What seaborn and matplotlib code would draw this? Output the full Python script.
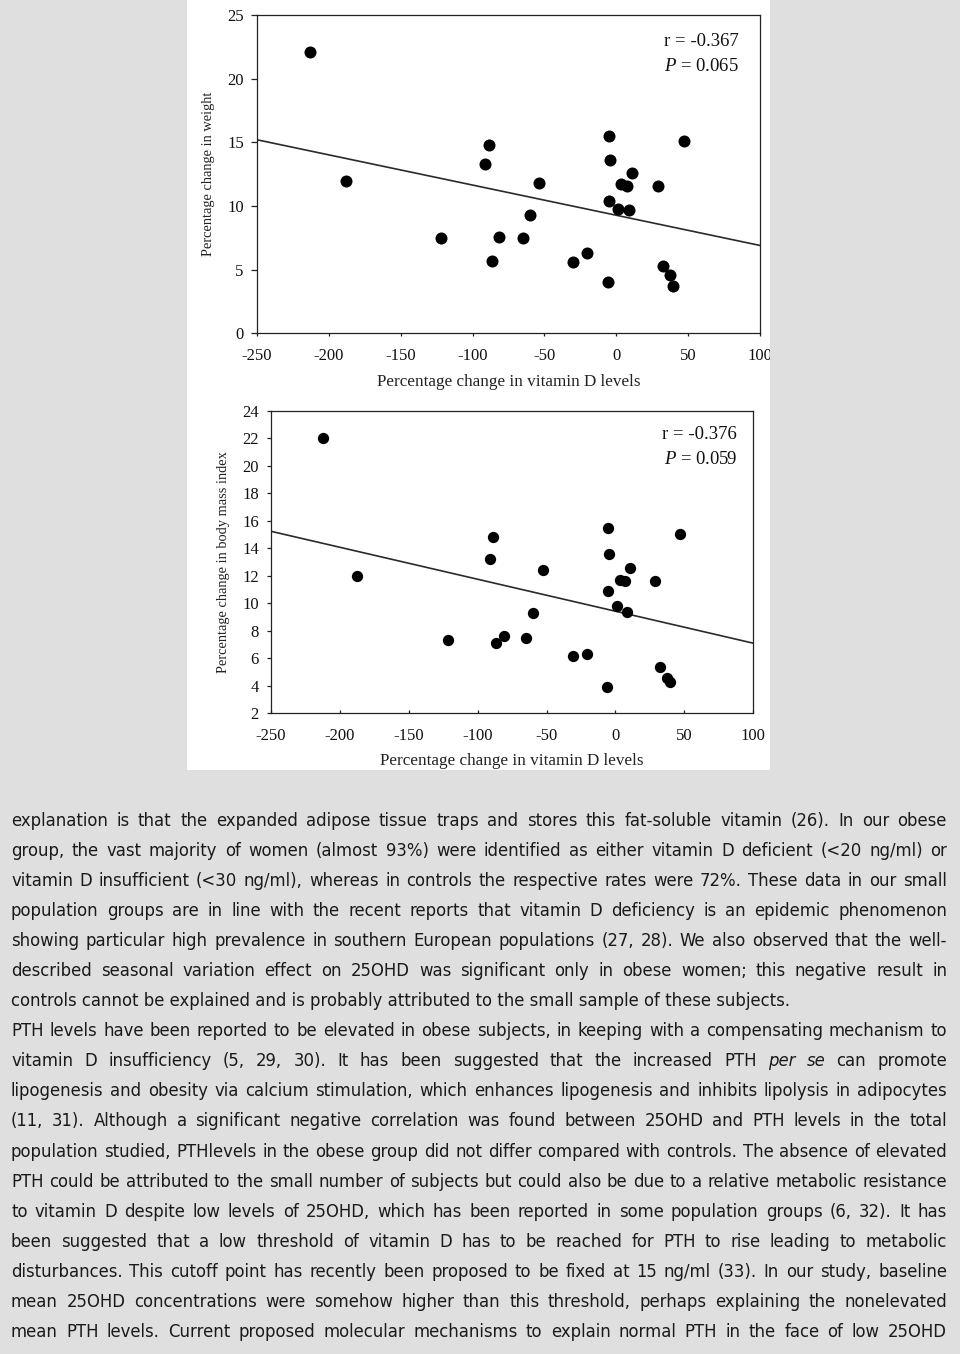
"""
plot.py
=======
Two scatter panels (weight / BMI change vs vitamin D change) with their
fitted trend lines, followed by the page text that sits under the figure.

Output: out.png (960 x 1354 px)
"""

import matplotlib
matplotlib.use("Agg")          # no display in the sandbox
import matplotlib.pyplot as plt
from matplotlib.patches import Rectangle
from matplotlib.transforms import Bbox, TransformedBbox
import seaborn as sns

# ══════════════════════════════════════════════════════════════════════════════
# DATA
# ══════════════════════════════════════════════════════════════════════════════

x_ticks = [-250, -200, -150, -100, -50, 0, 50, 100]
weight_ticks = [0, 5, 10, 15, 20, 25]
bmi_ticks = [2, 4, 6, 8, 10, 12, 14, 16, 18, 20, 22, 24]

# top panel: % change in weight
vitd_change_w = [-212.9, -187.8, -121.7, -91.6, -88.7, -86.7, -81.5, -65.1,
                 -60.2, -53.5, -30.4, -20.3, -6.0, -5.2, -4.2, -5.2, 1.5,
                 3.3, 7.2, 8.5, 11.1, 29.0, 32.6, 37.3, 39.6, 47.4]
weight_change = [22.1, 12.0, 7.5, 13.3, 14.8, 5.7, 7.6, 7.5,
                  9.3, 11.8, 5.6, 6.3, 4.0, 15.5, 13.6, 10.4, 9.8,
                  11.7, 11.6, 9.7, 12.6, 11.6, 5.3, 4.6, 3.7, 15.1]

# bottom panel: % change in body mass index
vitd_change_b = [-211.9, -187.1, -121.2, -90.9, -88.5, -86.6, -81.0, -65.0,
                 -59.9, -52.9, -30.7, -20.5, -6.4, -5.6, -4.5, -5.6, 1.4,
                 3.3, 7.1, 8.1, 10.6, 28.7, 32.5, 37.3, 39.5, 47.1]
bmi_change = [22.0, 12.0, 7.3, 13.25, 14.8, 7.1, 7.6, 7.5,
              9.3, 12.4, 6.2, 6.3, 3.9, 15.5, 13.6, 10.9, 9.8,
              11.7, 11.6, 9.4, 12.55, 11.6, 5.35, 4.55, 4.3, 15.05]

# fitted lines (end points at the axis limits)
trend_x = [-250, 100]
weight_trend = [15.2, 6.9]
bmi_trend = [15.25, 7.1]

weight_stats = ["r = -0.367", r"$\mathit{P}$ = 0.065"]
bmi_stats = ["r = -0.376", r"$\mathit{P}$ = 0.059"]

x_label = "Percentage change in vitamin D levels"
weight_label = "Percentage change in weight"
bmi_label = "Percentage change in body mass index"

# page text under the figure; _word_ = italic
body_lines = [
    "explanation is that the expanded adipose tissue traps and stores this fat-soluble vitamin (26). In our obese",
    "group, the vast majority of women (almost 93%) were identified as either vitamin D deficient (<20 ng/ml) or",
    "vitamin D insufficient (<30 ng/ml), whereas in controls the respective rates were 72%. These data in our small",
    "population groups are in line with the recent reports that vitamin D deficiency is an epidemic phenomenon",
    "showing particular high prevalence in southern European populations (27, 28). We also observed that the well-",
    "described seasonal variation effect on 25OHD was significant only in obese women; this negative result in",
    "controls cannot be explained and is probably attributed to the small sample of these subjects.",
    "PTH levels have been reported to be elevated in obese subjects, in keeping with a compensating mechanism to",
    "vitamin D insufficiency (5, 29, 30). It has been suggested that the increased PTH _per_ _se_ can promote",
    "lipogenesis and obesity via calcium stimulation, which enhances lipogenesis and inhibits lipolysis in adipocytes",
    "(11, 31). Although a significant negative correlation was found between 25OHD and PTH levels in the total",
    "population studied, PTHlevels in the obese group did not differ compared with controls. The absence of elevated",
    "PTH could be attributed to the small number of subjects but could also be due to a relative metabolic resistance",
    "to vitamin D despite low levels of 25OHD, which has been reported in some population groups (6, 32). It has",
    "been suggested that a low threshold of vitamin D has to be reached for PTH to rise leading to metabolic",
    "disturbances. This cutoff point has recently been proposed to be fixed at 15 ng/ml (33). In our study, baseline",
    "mean 25OHD concentrations were somehow higher than this threshold, perhaps explaining the nonelevated",
    "mean PTH levels. Current proposed molecular mechanisms to explain normal PTH in the face of low 25OHD",
]
ragged_lines = {6}             # paragraph end -> not justified

# ══════════════════════════════════════════════════════════════════════════════
# LAYOUT (pixels)
# ══════════════════════════════════════════════════════════════════════════════

FIG_W, FIG_H = 960, 1354
PAGE_GREY = "#dfdfdf"
INK = "#1a1a1a"
SERIF = "Liberation Serif"

PIC_LEFT, PIC_RIGHT, PIC_BOTTOM = 187, 770, 770
BODY_LEFT, BODY_RIGHT = 11, 947
BODY_BASE0, BODY_STEP = 826, 30.05
BODY_PT = 11.9


def fx(px):
    return px / FIG_W


def fy(py):
    return 1 - py / FIG_H


def axes_rect(left, top, right, bottom):
    return [fx(left), fy(bottom), (right - left) / FIG_W, (bottom - top) / FIG_H]


sns.set_theme(style="ticks")
plt.rcParams.update({
    "font.family": SERIF,
    "axes.unicode_minus": False,
    "mathtext.fontset": "custom",
    "mathtext.rm": SERIF,
    "mathtext.it": SERIF + ":italic",
    "axes.edgecolor": "#222222",
    "axes.linewidth": 0.9,
    "xtick.color": "#222222",
    "ytick.color": "#222222",
})

fig = plt.figure(figsize=(FIG_W / 100, FIG_H / 100), dpi=100, facecolor=PAGE_GREY)

# white picture area behind the two panels
fig.patches.append(Rectangle((fx(PIC_LEFT), fy(PIC_BOTTOM)),
                             (PIC_RIGHT - PIC_LEFT) / FIG_W, PIC_BOTTOM / FIG_H,
                             transform=fig.transFigure, facecolor="white",
                             edgecolor="none", zorder=-5))
pic_clip = TransformedBbox(Bbox([[fx(PIC_LEFT), fy(PIC_BOTTOM)],
                                 [fx(PIC_RIGHT), 1.0]]), fig.transFigure)


def draw_panel(ax, x, y, trend_y, ylim, yticks, ylabel, marker_size,
               xtick_dir, xtick_pad, ytick_len, xlabel_y, ylabel_x):
    sns.scatterplot(x=x, y=y, ax=ax, color="black", s=marker_size,
                    linewidth=0, zorder=3)
    sns.lineplot(x=trend_x, y=trend_y, ax=ax, color="#2a2a2a", lw=1.2, zorder=2)

    ax.set_xlim(trend_x[0], trend_x[-1])
    ax.set_ylim(*ylim)
    ax.set_xticks(x_ticks)
    ax.set_yticks(yticks)
    ax.tick_params(axis="x", direction=xtick_dir, length=2.5, width=0.9,
                   pad=xtick_pad, labelsize=12, labelcolor="#111111")
    ax.tick_params(axis="y", direction="out", length=ytick_len, width=0.9,
                   pad=5.5, labelsize=12, labelcolor="#111111")
    for side in ("top", "right"):
        ax.spines[side].set_visible(True)
    ax.set_facecolor("white")

    # the scanned picture is cropped at its right edge
    for lab in ax.get_xticklabels():
        lab.set_clip_box(pic_clip)
        lab.set_clip_on(True)

    ax.set_xlabel(x_label, fontsize=12.3, color="#222222")
    ax.set_ylabel(ylabel, fontsize=10.4, color="#222222")
    ax.xaxis.label.set_va("center")
    ax.yaxis.label.set_va("center")
    ax.xaxis.set_label_coords(0.5, xlabel_y)
    ax.yaxis.set_label_coords(ylabel_x, 0.5)


# ── top panel: weight ─────────────────────────────────────────────────────────
ax_w = fig.add_axes(axes_rect(257, 15, 760, 333.3))
draw_panel(ax_w, vitd_change_w, weight_change, weight_trend, (0, 25),
           weight_ticks, weight_label, marker_size=75, xtick_dir="out",
           xtick_pad=8.0, ytick_len=4, xlabel_y=-0.152, ylabel_x=-0.096)

# ── bottom panel: BMI ─────────────────────────────────────────────────────────
ax_b = fig.add_axes(axes_rect(270.7, 411, 753.4, 713.3))
draw_panel(ax_b, vitd_change_b, bmi_change, bmi_trend, (2, 24),
           bmi_ticks, bmi_label, marker_size=66, xtick_dir="in",
           xtick_pad=10.5, ytick_len=3, xlabel_y=-0.158, ylabel_x=-0.098)

# ── r / P annotations ─────────────────────────────────────────────────────────
for stats, right, centers in ((weight_stats, 739, (41.7, 66.7)),
                              (bmi_stats, 737, (434.3, 460))):
    for label, cy in zip(stats, centers):
        fig.text(fx(right), fy(cy), label, ha="right", va="center",
                 fontsize=13.5, family=SERIF, color="#111111")

# ══════════════════════════════════════════════════════════════════════════════
# BODY TEXT (justified word by word)
# ══════════════════════════════════════════════════════════════════════════════

renderer = fig.canvas.get_renderer()


def text_kw(style):
    return dict(fontsize=BODY_PT, family="DejaVu Sans", style=style,
                color=INK, va="baseline", ha="left")


def word_width(word, style):
    t = fig.text(0, 0, word, **text_kw(style))
    w = t.get_window_extent(renderer=renderer).width
    t.remove()
    return w


for i, line in enumerate(body_lines):
    base = BODY_BASE0 + i * BODY_STEP
    if i in ragged_lines:
        fig.text(fx(BODY_LEFT), fy(base), line, **text_kw("normal"))
        continue

    words, styles = [], []
    for w in line.split(" "):
        if len(w) > 2 and w.startswith("_") and w.endswith("_"):
            words.append(w[1:-1])
            styles.append("italic")
        else:
            words.append(w)
            styles.append("normal")

    widths = [word_width(w, s) for w, s in zip(words, styles)]
    gap = (BODY_RIGHT - BODY_LEFT - sum(widths)) / (len(words) - 1)
    x = BODY_LEFT
    for w, s, wd in zip(words, styles, widths):
        fig.text(fx(x), fy(base), w, **text_kw(s))
        x += wd + gap

fig.savefig("out.png", dpi=100, facecolor=fig.get_facecolor())
plt.close(fig)
